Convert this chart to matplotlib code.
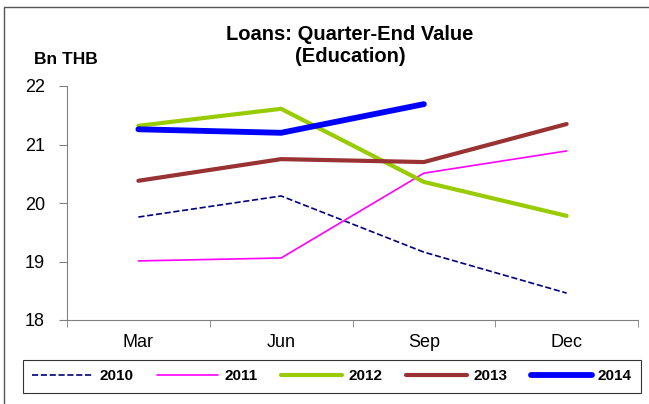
import matplotlib.pyplot as plt
from matplotlib.patches import Rectangle

plt.rcParams['font.family'] = ['Liberation Sans', 'DejaVu Sans']

quarters = ["Mar", "Jun", "Sep", "Dec"]
years = ["2010", "2011", "2012", "2013", "2014"]
v2010 = [19.76, 20.12, 19.16, 18.46]
v2011 = [19.01, 19.06, 20.51, 20.89]
v2012 = [21.32, 21.61, 20.36, 19.78]
v2013 = [20.38, 20.75, 20.70, 21.35]
v2014 = [21.26, 21.20, 21.69]

series = [v2010, v2011, v2012, v2013, v2014]
colors = ["#000080", "#FF00FF", "#99CC00", "#993333", "#0000FF"]
widths = [1.2, 1.2, 3.0, 3.0, 4.2]
styles = ["--", "-", "-", "-", "-"]

fig = plt.figure(figsize=(6.49, 4.04), dpi=100)
ax = fig.add_axes([67 / 649, 1 - 320 / 404, (638 - 67) / 649, (320 - 86) / 404])

for vals, name, c, lw, ls in zip(series, years, colors, widths, styles):
    ax.plot(range(len(vals)), vals, color=c, lw=lw, ls=ls, label=name,
            solid_capstyle="round")

ax.set_xlim(-0.5, 3.5)
ax.set_ylim(18, 22)
ax.set_yticks([18, 19, 20, 21, 22])
ax.set_xticks(range(4))
ax.set_xticklabels(quarters)
ax.set_xticks([-0.5, 0.5, 1.5, 2.5, 3.5], minor=True)
ax.tick_params(axis="x", which="major", length=0, pad=10, labelsize=13)
ax.tick_params(axis="x", which="minor", length=5, color="#808080", direction="out")
ax.tick_params(axis="y", length=6, color="#808080", labelsize=13, pad=10)
for s in ["top", "right"]:
    ax.spines[s].set_visible(False)
for s in ["left", "bottom"]:
    ax.spines[s].set_color("#808080")

fig.text(350 / 649, 1 - 45.5 / 404, "Loans: Quarter-End Value\n(Education)", ha="center",
         va="center", fontsize=14.5, fontweight="bold", linespacing=1.2)
fig.text(34 / 649, 1 - 59 / 404, "Bn THB", ha="left", va="center",
         fontsize=12.5, fontweight="bold")

leg = fig.legend(loc="center", bbox_to_anchor=(332 / 649, 1 - 376.5 / 404), ncol=5,
                 frameon=True, fancybox=False, edgecolor="black",
                 prop={"weight": "bold", "size": 11}, handlelength=4.0,
                 columnspacing=1.55, handletextpad=0.4, borderpad=0.6)
leg.get_frame().set_linewidth(0.8)

fig.patches.append(Rectangle((4 / 649, -0.1), 1.2, 1 - 7 / 404 + 0.1,
                             transform=fig.transFigure, fill=False,
                             edgecolor="#555555", lw=1.0))

fig.savefig("out.png", dpi=100)
